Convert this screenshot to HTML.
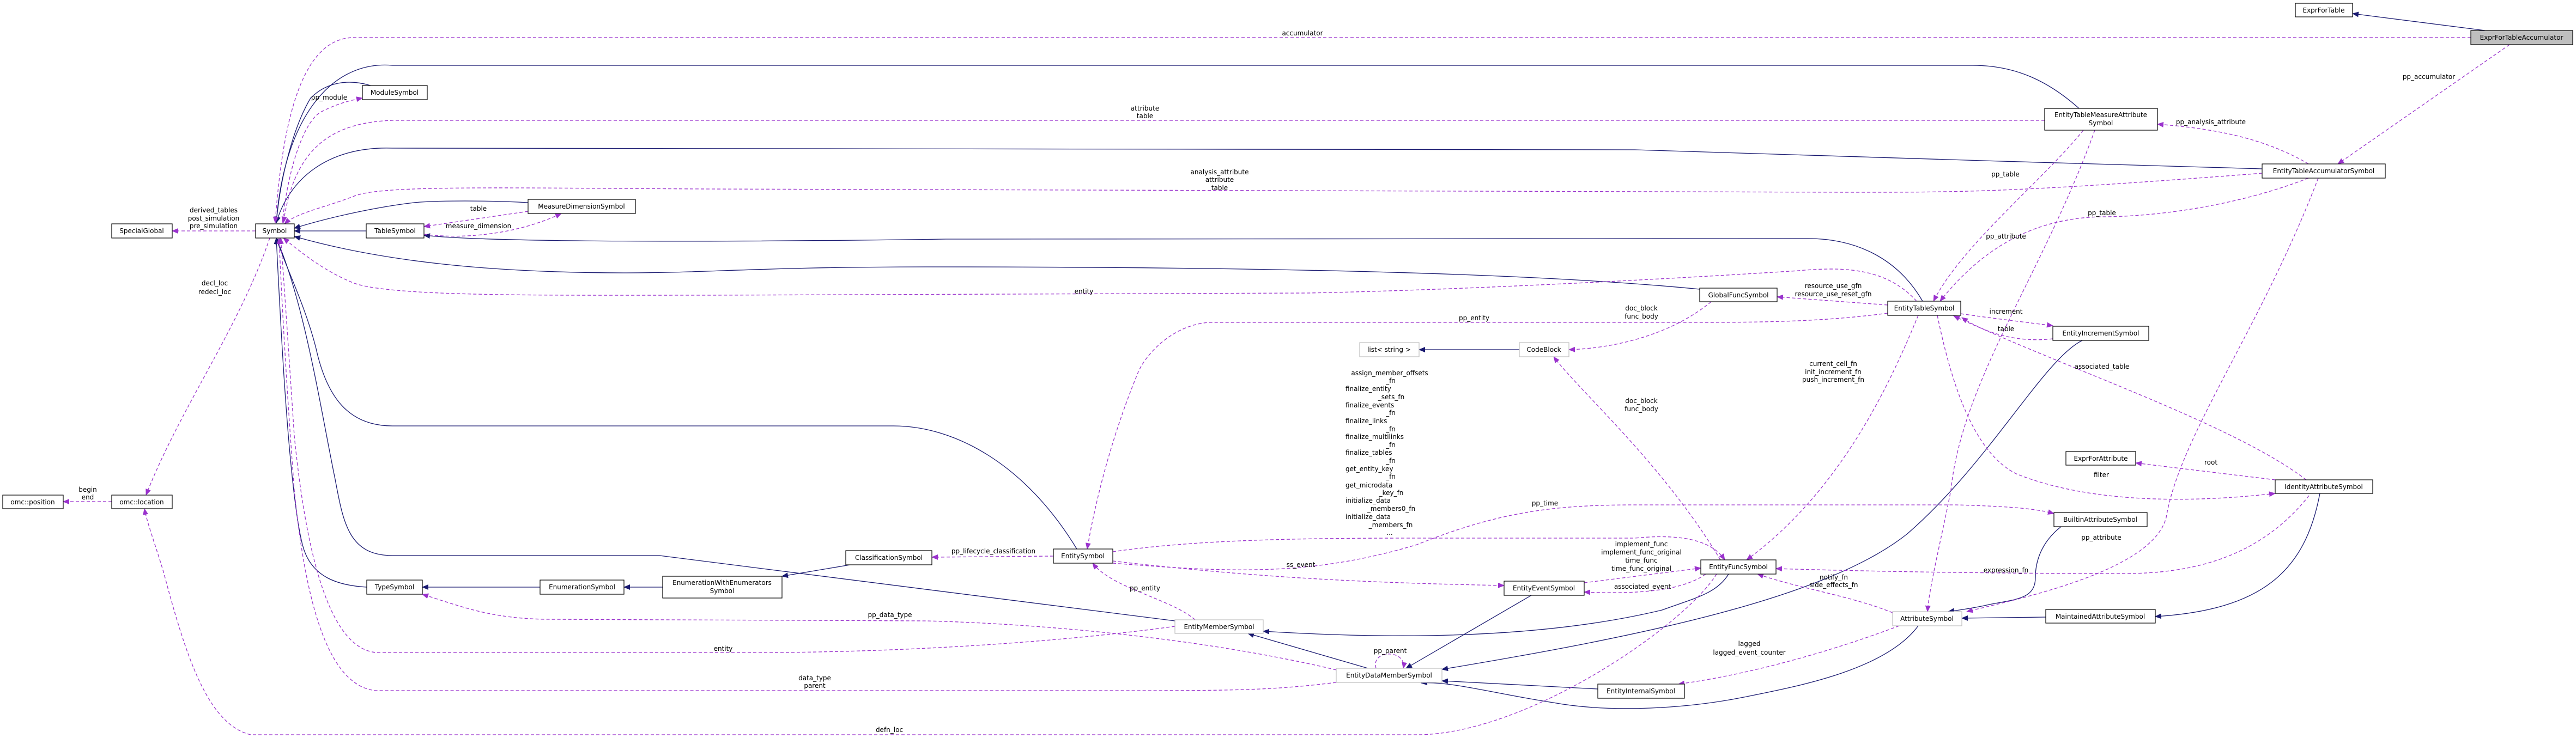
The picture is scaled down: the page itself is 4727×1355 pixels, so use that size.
<!DOCTYPE html>
<html><head><meta charset="utf-8"><style>
html,body{margin:0;padding:0;background:#fff;}
svg{display:block;}
text{font-family:"DejaVu Sans","Liberation Sans",sans-serif;font-size:12px;fill:#000;}
.n{fill:#fff;stroke:#000;stroke-width:1.2;}
.g{fill:#fff;stroke:#bfbfbf;stroke-width:1.2;}
.s{fill:none;stroke:#191970;stroke-width:1.3;}
.d{fill:none;stroke:#9a32cd;stroke-width:1.3;stroke-dasharray:6,4;}
</style></head><body>
<svg width="4727" height="1355" viewBox="0 0 4727 1355" xmlns="http://www.w3.org/2000/svg">
<defs>
<marker id="ab" markerWidth="12" markerHeight="10" refX="11" refY="5" orient="auto" markerUnits="userSpaceOnUse"><path d="M0,0 L12,5 L0,10 z" fill="#191970"/></marker>
<marker id="ap" markerWidth="12" markerHeight="10" refX="11" refY="5" orient="auto" markerUnits="userSpaceOnUse"><path d="M0,0 L12,5 L0,10 z" fill="#9a32cd"/></marker>
</defs>
<g class="edges">
<!-- solid -->
<path class="s" marker-end="url(#ab)" d="M4560,56 L4317,25"/>
<path class="s" marker-end="url(#ab)" d="M3815,199 C3760,150 3700,120 3620,120 L720,120 C600,110 520,230 507,409"/>
<path class="s" marker-end="url(#ab)" d="M680,157 C640,145 600,150 570,180 C540,230 515,320 507,409"/>
<path class="s" marker-end="url(#ab)" d="M4151,310 C3800,300 3300,285 3000,275 L720,272 C600,268 530,330 507,409"/>
<path class="s" marker-end="url(#ab)" d="M969,372 C900,368 800,368 760,372 C690,380 600,400 540,419"/>
<path class="s" marker-end="url(#ab)" d="M672,424 L540,424"/>
<path class="s" marker-end="url(#ab)" d="M3528,553 C3480,470 3400,438 3318,438 L1736,439 C1300,445 900,445 778,432"/>
<path class="s" marker-end="url(#ab)" d="M3119,531 C2800,500 2300,490 1700,490 C1400,490 1300,501 1150,501 C900,501 700,480 540,434"/>
<path class="s" marker-end="url(#ab)" d="M1976,1008 C1880,850 1750,782 1640,782 L720,782 C640,782 600,730 580,640 C560,560 520,480 507,437"/>
<path class="s" marker-end="url(#ab)" d="M2156,1140 L1210,1020 L720,1020 C640,1020 630,960 615,880 C590,760 560,560 507,437"/>
<path class="s" marker-end="url(#ab)" d="M673,1078 C620,1075 570,1060 555,1000 C530,900 515,600 507,437"/>
<path class="s" marker-end="url(#ab)" d="M991,1078 L775,1078"/>
<path class="s" marker-end="url(#ab)" d="M1216,1078 L1145,1078"/>
<path class="s" marker-end="url(#ab)" d="M1560,1037 L1435,1058"/>
<path class="s" marker-end="url(#ab)" d="M2510,1227 L2290,1163"/>
<path class="s" marker-end="url(#ab)" d="M2810,1093 L2580,1227"/>
<path class="s" marker-end="url(#ab)" d="M3172,1054 C3150,1090 3110,1098 3050,1120 C2800,1180 2500,1170 2318,1159"/>
<path class="s" marker-end="url(#ab)" d="M2932,1265 L2646,1250"/>
<path class="s" marker-end="url(#ab)" d="M3520,1149 C3460,1230 3300,1260 3200,1280 C3100,1300 2960,1310 2850,1290 C2750,1275 2660,1250 2608,1254"/>
<path class="s" marker-end="url(#ab)" d="M3821,625 C3750,660 3650,850 3500,980 C3350,1100 3000,1170 2646,1229"/>
<path class="s" marker-end="url(#ab)" d="M2788,642 L2604,642"/>
<path class="s" marker-end="url(#ab)" d="M3782,967 C3740,1000 3735,1040 3735,1060 C3735,1100 3700,1100 3650,1110 C3620,1117 3595,1120 3575,1123"/>
<path class="s" marker-end="url(#ab)" d="M3754,1133 L3600,1135"/>
<path class="s" marker-end="url(#ab)" d="M4257,906 C4230,1050 4150,1120 3955,1132"/>
<!-- dashed -->
<path class="d" marker-end="url(#ap)" d="M4534,69 L650,69 C560,69 520,200 505,409"/>
<path class="d" marker-end="url(#ap)" d="M4605,82 L4290,301"/>
<path class="d" marker-end="url(#ap)" d="M518,409 C530,300 560,220 590,205 C620,190 640,185 665,180"/>
<path class="d" marker-end="url(#ap)" d="M3752,221 L720,221 C610,225 540,270 520,409"/>
<path class="d" marker-end="url(#ap)" d="M4151,318 C3700,353 3600,353 3400,353 L1300,347 C900,345 700,340 650,360 C600,380 545,390 522,411"/>
<path class="d" marker-end="url(#ap)" d="M969,388 L778,416"/>
<path class="d" marker-end="url(#ap)" d="M778,430 C850,440 950,430 1030,392"/>
<path class="d" marker-end="url(#ap)" d="M3517,553 C3460,490 3380,490 3300,497 C3100,510 2700,532 2400,538 L1300,542 C1000,542 720,545 650,520 C600,500 560,470 520,437"/>
<path class="d" marker-end="url(#ap)" d="M469,424 L316,424"/>
<path class="d" marker-end="url(#ap)" d="M495,437 C440,600 330,750 268,909"/>
<path class="d" marker-end="url(#ap)" d="M205,921 L116,921"/>
<path class="d" marker-end="url(#ap)" d="M1933,1021 L1710,1023"/>
<path class="d" marker-end="url(#ap)" d="M2452,1230 C2200,1170 1900,1145 1700,1140 L1000,1137 C900,1135 850,1115 775,1091"/>
<path class="d" marker-end="url(#ap)" d="M2156,1150 C1900,1185 1600,1198 1400,1198 L690,1198 C600,1190 560,1000 540,800 C530,650 520,500 515,437"/>
<path class="d" marker-end="url(#ap)" d="M2452,1253 C2350,1265 2300,1268 2100,1268 L690,1268 C600,1260 560,1100 540,900 C525,700 517,550 512,437"/>
<path class="d" marker-end="url(#ap)" d="M3150,1054 C3090,1150 2800,1349 2600,1349 L460,1349 C380,1330 340,1200 300,1050 C285,1000 270,960 265,934"/>
<path class="d" marker-end="url(#ap)" d="M2193,1138 C2150,1100 2040,1080 2005,1034"/>
<path class="d" marker-end="url(#ap)" d="M2525,1227 C2515,1192 2582,1192 2575,1227"/>
<path class="d" marker-end="url(#ap)" d="M2042,1030 C2300,1060 2500,1070 2760,1075"/>
<path class="d" marker-end="url(#ap)" d="M3130,1054 C3080,1090 2980,1090 2907,1087"/>
<path class="d" marker-end="url(#ap)" d="M2907,1070 L3121,1043"/>
<path class="d" marker-end="url(#ap)" d="M2042,1013 C2200,990 2400,988 2600,988 L3000,988 C3080,980 3140,990 3165,1028"/>
<path class="d" marker-end="url(#ap)" d="M2042,1034 C2250,1050 2400,1060 2600,1000 C2750,940 2850,927 3000,927 L3590,927 C3700,930 3740,935 3769,943"/>
<path class="d" marker-end="url(#ap)" d="M3157,1028 C3050,850 2900,720 2851,655"/>
<path class="d" marker-end="url(#ap)" d="M3140,554 C3060,620 2950,640 2879,642"/>
<path class="d" marker-end="url(#ap)" d="M3464,560 L3261,545"/>
<path class="d" marker-end="url(#ap)" d="M3464,575 C3350,590 3250,592 3100,592 L2220,592 C2160,595 2110,640 2090,680 C2040,800 2010,920 1995,1008"/>
<path class="d" marker-end="url(#ap)" d="M3823,239 C3750,330 3600,450 3548,553"/>
<path class="d" marker-end="url(#ap)" d="M4236,327 C4100,380 3950,398 3857,398 C3750,400 3650,440 3560,553"/>
<path class="d" marker-end="url(#ap)" d="M3844,239 C3750,500 3600,700 3580,900 C3560,1000 3540,1080 3537,1123"/>
<path class="d" marker-end="url(#ap)" d="M4254,327 C4150,600 4000,800 3975,950 C3950,1050 3700,1100 3609,1123"/>
<path class="d" marker-end="url(#ap)" d="M4236,301 C4150,250 4050,235 3959,228"/>
<path class="d" marker-end="url(#ap)" d="M3598,576 C3660,585 3720,592 3767,598"/>
<path class="d" marker-end="url(#ap)" d="M3767,622 C3700,630 3640,610 3600,583"/>
<path class="d" marker-end="url(#ap)" d="M4232,881 C4100,780 3800,680 3585,580"/>
<path class="d" marker-end="url(#ap)" d="M3555,579 C3580,700 3620,830 3700,870 C3850,930 4050,920 4175,906"/>
<path class="d" marker-end="url(#ap)" d="M4175,881 L3919,850"/>
<path class="d" marker-end="url(#ap)" d="M4237,910 C4150,1020 4030,1053 3900,1053 C3600,1053 3400,1048 3259,1044"/>
<path class="d" marker-end="url(#ap)" d="M3473,1125 C3400,1095 3300,1080 3225,1054"/>
<path class="d" marker-end="url(#ap)" d="M3485,1149 C3350,1200 3200,1240 3080,1256"/>
<path class="d" marker-end="url(#ap)" d="M3520,579 C3470,700 3380,900 3205,1028"/>
</g>
<g class="nodes">
<rect class="n" x="4212" y="6" width="105" height="25"/><text x="4264" y="23" text-anchor="middle">ExprForTable</text>
<rect x="4534" y="56" width="187" height="26" fill="#bfbfbf" stroke="#000" stroke-width="1.2"/><text x="4627" y="73" text-anchor="middle">ExprForTableAccumulator</text>
<rect class="n" x="665" y="157" width="119" height="26"/><text x="724" y="174" text-anchor="middle">ModuleSymbol</text>
<rect class="n" x="3752" y="199" width="207" height="40"/><text x="3855" y="215" text-anchor="middle">EntityTableMeasureAttribute</text><text x="3855" y="230" text-anchor="middle">Symbol</text>
<rect class="n" x="4151" y="301" width="226" height="26"/><text x="4264" y="318" text-anchor="middle">EntityTableAccumulatorSymbol</text>
<rect class="n" x="969" y="366" width="197" height="26"/><text x="1067" y="383" text-anchor="middle">MeasureDimensionSymbol</text>
<rect class="n" x="205" y="411" width="111" height="26"/><text x="260" y="428" text-anchor="middle">SpecialGlobal</text>
<rect class="n" x="469" y="411" width="71" height="26"/><text x="504" y="428" text-anchor="middle">Symbol</text>
<rect class="n" x="672" y="411" width="106" height="26"/><text x="725" y="428" text-anchor="middle">TableSymbol</text>
<rect class="n" x="3119" y="529" width="142" height="25"/><text x="3190" y="546" text-anchor="middle">GlobalFuncSymbol</text>
<rect class="n" x="3464" y="553" width="134" height="26"/><text x="3531" y="570" text-anchor="middle">EntityTableSymbol</text>
<rect class="n" x="3767" y="599" width="176" height="26"/><text x="3855" y="616" text-anchor="middle">EntityIncrementSymbol</text>
<rect class="g" x="2495" y="629" width="109" height="26"/><text x="2549" y="646" text-anchor="middle">list&lt; string &gt;</text>
<rect class="g" x="2788" y="629" width="91" height="26"/><text x="2833" y="646" text-anchor="middle">CodeBlock</text>
<rect class="n" x="3791" y="829" width="128" height="25"/><text x="3855" y="846" text-anchor="middle">ExprForAttribute</text>
<rect class="n" x="4175" y="881" width="179" height="25"/><text x="4264" y="898" text-anchor="middle">IdentityAttributeSymbol</text>
<rect class="n" x="5" y="909" width="111" height="25"/><text x="60" y="926" text-anchor="middle">omc::position</text>
<rect class="n" x="205" y="909" width="111" height="25"/><text x="260" y="926" text-anchor="middle">omc::location</text>
<rect class="n" x="3769" y="941" width="171" height="26"/><text x="3854" y="958" text-anchor="middle">BuiltinAttributeSymbol</text>
<rect class="n" x="1933" y="1008" width="109" height="26"/><text x="1987" y="1025" text-anchor="middle">EntitySymbol</text>
<rect class="n" x="1552" y="1011" width="158" height="26"/><text x="1631" y="1028" text-anchor="middle">ClassificationSymbol</text>
<rect class="n" x="3121" y="1028" width="138" height="26"/><text x="3190" y="1045" text-anchor="middle">EntityFuncSymbol</text>
<rect class="n" x="1216" y="1058" width="219" height="40"/><text x="1325" y="1074" text-anchor="middle">EnumerationWithEnumerators</text><text x="1325" y="1089" text-anchor="middle">Symbol</text>
<rect class="n" x="673" y="1065" width="102" height="26"/><text x="724" y="1082" text-anchor="middle">TypeSymbol</text>
<rect class="n" x="991" y="1065" width="154" height="26"/><text x="1068" y="1082" text-anchor="middle">EnumerationSymbol</text>
<rect class="n" x="2760" y="1067" width="147" height="26"/><text x="2833" y="1084" text-anchor="middle">EntityEventSymbol</text>
<rect class="n" x="3754" y="1119" width="201" height="25"/><text x="3854" y="1136" text-anchor="middle">MaintainedAttributeSymbol</text>
<rect class="g" x="3473" y="1123" width="127" height="26"/><text x="3536" y="1140" text-anchor="middle">AttributeSymbol</text>
<rect class="g" x="2156" y="1138" width="162" height="25"/><text x="2237" y="1155" text-anchor="middle">EntityMemberSymbol</text>
<rect class="g" x="2452" y="1227" width="194" height="26"/><text x="2549" y="1244" text-anchor="middle">EntityDataMemberSymbol</text>
<rect class="n" x="2932" y="1256" width="159" height="26"/><text x="3011" y="1273" text-anchor="middle">EntityInternalSymbol</text>
</g>
<g class="labels" text-anchor="middle">
<text x="2390" y="65">accumulator</text>
<text x="4457" y="145">pp_accumulator</text>
<text x="604" y="183">pp_module</text>
<text x="2101" y="203">attribute</text><text x="2101" y="217">table</text>
<text x="4057" y="228">pp_analysis_attribute</text>
<text x="2238" y="320">analysis_attribute</text><text x="2238" y="334">attribute</text><text x="2238" y="349">table</text>
<text x="3680" y="324">pp_table</text>
<text x="878" y="387">table</text>
<text x="392" y="390">derived_tables</text><text x="392" y="405">post_simulation</text><text x="392" y="419">pre_simulation</text>
<text x="3857" y="395">pp_table</text>
<text x="878" y="419">measure_dimension</text>
<text x="3681" y="438">pp_attribute</text>
<text x="394" y="524">decl_loc</text><text x="394" y="540">redecl_loc</text>
<text x="1989" y="539">entity</text>
<text x="3364" y="529">resource_use_gfn</text><text x="3364" y="544">resource_use_reset_gfn</text>
<text x="3012" y="570">doc_block</text><text x="3012" y="585">func_body</text>
<text x="2705" y="588">pp_entity</text>
<text x="3681" y="576">increment</text>
<text x="3681" y="608">table</text>
<text x="3364" y="672">current_cell_fn</text><text x="3364" y="687">init_increment_fn</text><text x="3364" y="701">push_increment_fn</text>
<text x="3857" y="677">associated_table</text>
<text x="3012" y="740">doc_block</text><text x="3012" y="755">func_body</text>
<text x="4057" y="853">root</text>
<text x="3856" y="876">filter</text>
<text x="161" y="903">begin</text><text x="161" y="917">end</text>
<text x="2835" y="928">pp_time</text>
<text x="3856" y="991">pp_attribute</text>
<text x="3012" y="1003">implement_func</text><text x="3012" y="1018">implement_func_original</text><text x="3012" y="1033">time_func</text><text x="3012" y="1048">time_func_original</text>
<text x="1823" y="1016">pp_lifecycle_classification</text>
<text x="2387" y="1041">ss_event</text>
<text x="3681" y="1051">expression_fn</text>
<text x="3365" y="1064">notify_fn</text><text x="3365" y="1078">side_effects_fn</text>
<text x="3014" y="1081">associated_event</text>
<text x="2101" y="1084">pp_entity</text>
<text x="1633" y="1133">pp_data_type</text>
<text x="3210" y="1186">lagged</text><text x="3210" y="1202">lagged_event_counter</text>
<text x="1327" y="1195">entity</text>
<text x="2551" y="1199">pp_parent</text>
<text x="1495" y="1249">data_type</text><text x="1495" y="1263">parent</text>
<text x="1632" y="1344">defn_loc</text>
</g>
<g class="labels2">
<text x="2550" y="689" text-anchor="middle">assign_member_offsets</text>
<text x="2552" y="703" text-anchor="middle">_fn</text>
<text x="2469" y="718">finalize_entity</text>
<text x="2553" y="733" text-anchor="middle">_sets_fn</text>
<text x="2469" y="748">finalize_events</text>
<text x="2552" y="762" text-anchor="middle">_fn</text>
<text x="2469" y="777">finalize_links</text>
<text x="2552" y="792" text-anchor="middle">_fn</text>
<text x="2469" y="806">finalize_multilinks</text>
<text x="2552" y="821" text-anchor="middle">_fn</text>
<text x="2469" y="835">finalize_tables</text>
<text x="2552" y="850" text-anchor="middle">_fn</text>
<text x="2469" y="865">get_entity_key</text>
<text x="2552" y="879" text-anchor="middle">_fn</text>
<text x="2469" y="895">get_microdata</text>
<text x="2553" y="909" text-anchor="middle">_key_fn</text>
<text x="2469" y="923">initialize_data</text>
<text x="2553" y="938" text-anchor="middle">_members0_fn</text>
<text x="2469" y="953">initialize_data</text>
<text x="2552" y="968" text-anchor="middle">_members_fn</text>
<text x="2550" y="982" text-anchor="middle">...</text>
</g>
</svg>
</body></html>
